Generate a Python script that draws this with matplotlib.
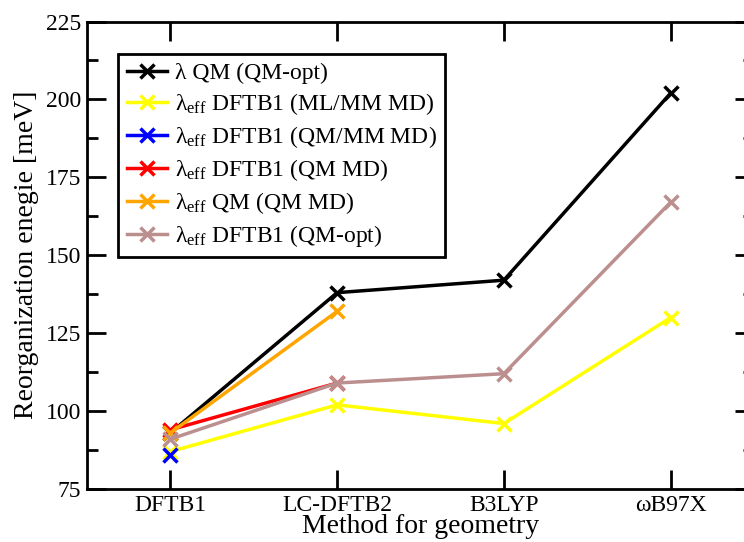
import matplotlib
matplotlib.use("Agg")
import matplotlib.pyplot as plt
from matplotlib.ticker import MultipleLocator

plt.rcParams['font.family'] = ['Liberation Serif', 'DejaVu Serif']
plt.rcParams['mathtext.fontset'] = 'custom'
plt.rcParams['mathtext.rm'] = 'Liberation Serif'
plt.rcParams['mathtext.it'] = 'Liberation Serif:italic'

methods = ['DFTB1', 'LC-DFTB2', 'B3LYP', 'ωB97X']

lam_qm_opt = [93, 138, 142, 202]
eff_dftb1_mlmm = [87, 102, 96, 130]
eff_dftb1_qmmm = [86]
eff_dftb1_qmmd = [94, 109]
eff_qm_qmmd = [93, 132]
eff_dftb1_qmopt = [91, 109, 112, 167]

series = [
    (lam_qm_opt, 'black', 'λ QM (QM-opt)'),
    (eff_dftb1_mlmm, '#ffff00', r'λ$_{\rm eff}$ DFTB1 (ML/MM MD)'),
    (eff_dftb1_qmmm, '#0000ff', r'λ$_{\rm eff}$ DFTB1 (QM/MM MD)'),
    (eff_dftb1_qmmd, '#ff0000', r'λ$_{\rm eff}$ DFTB1 (QM MD)'),
    (eff_qm_qmmd, '#ffa500', r'λ$_{\rm eff}$ QM (QM MD)'),
    (eff_dftb1_qmopt, '#bc8f8f', r'λ$_{\rm eff}$ DFTB1 (QM-opt)'),
]

fig = plt.figure(figsize=(7.44, 5.42), dpi=100)
ax = fig.add_axes([87/744, (542-489)/542, (754-87)/744, 467.5/542])

for vals, col, lab in series:
    x = list(range(1, len(vals) + 1))
    ax.plot(x, vals, color=col, lw=2.5, marker='x', ms=10, mew=2.5, label=lab)

ax.set_xlim(0.5, 4.5)
ax.set_ylim(75, 225)
ax.set_xticks(range(1, 5))
ax.set_xticklabels(methods)
ax.yaxis.set_major_locator(MultipleLocator(25))
ax.yaxis.set_minor_locator(MultipleLocator(12.5))
ax.tick_params(which='major', direction='in', length=14, width=2, labelsize=17,
               top=True, right=True, pad=4)
ax.tick_params(axis='y', which='minor', direction='in', length=8, width=2, right=True)
for s in ax.spines.values():
    s.set_linewidth(2)

ax.set_xlabel('Method for geometry', fontsize=20, labelpad=-1)
ax.set_ylabel('Reorganization enegie [meV]', fontsize=20, labelpad=5)

leg = ax.legend(loc='upper left', bbox_to_anchor=(0.047, 0.93), borderaxespad=0,
                fontsize=17, frameon=True, fancybox=False, framealpha=1,
                handlelength=1.7, labelspacing=0.3, handletextpad=0.35, borderpad=0.35)
leg.get_frame().set_edgecolor('black')
leg.get_frame().set_linewidth(2)

fig.savefig('out.png', dpi=100)
